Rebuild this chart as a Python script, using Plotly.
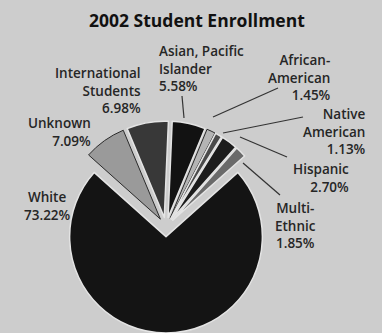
import plotly.graph_objects as go

W, H = 382, 333

# ---- data ----
categories = ["Unknown", "International Students", "Asian, Pacific Islander",
              "African-American", "Native American", "Hispanic", "Multi-Ethnic", "White"]
percent = [7.09, 6.98, 5.58, 1.45, 1.13, 2.70, 1.85, 73.22]
label_lines = [["Unknown", "7.09%"], ["International", "Students", "6.98%"],
               ["Asian, Pacific", "Islander", "5.58%"], ["African-", "American", "1.45%"],
               ["Native", "American", "1.13%"], ["Hispanic", "2.70%"],
               ["Multi-", "Ethnic", "1.85%"], ["White", "73.22%"]]
title_text = "2002 Student Enrollment"

# ---- styles ----
colors = ["#9a9a9a", "#383838", "#121212", "#b4b4b4", "#4a4a4a", "#1c1c1c", "#6a6a6a", "#141414"]
line_colors = ["#2a2a2a", "#e4e4e4", "#e4e4e4", "#2a2a2a", "#e4e4e4", "#e4e4e4", "#e4e4e4", "#e4e4e4"]
line_widths = [1, 1.5, 1.5, 1, 1.5, 1.5, 1.5, 1.5]
pulls = [0.1, 0.1, 0.1, 0.1, 0.1, 0.1, 0.1, 0.1]
BG = "#cdcdcd"
FONT = "Open Sans"

def px(x, y):
    return x / W, 1 - y / H

# pie center / size in px
cx, cy, half = 166, 227, 106
small_total = sum(percent[:-1])
rot = -small_total / 100 * 360 / 2

fig = go.Figure(go.Pie(
    labels=categories, values=percent, sort=False, direction="clockwise",
    rotation=rot, pull=pulls, textinfo="none", hoverinfo="skip",
    marker=dict(colors=colors, line=dict(color=line_colors, width=line_widths)),
    domain=dict(x=[(cx - half - 5) / W, (cx + half + 5) / W],
                y=[max(0, (H - cy - half) / H), (H - cy + half) / H]),
    showlegend=False,
))

# label placements: (anchor x, block center y, xanchor)
label_pos = [(93, 131.5, "right"), (143, 90, "right"),
             (157, 68, "left"), (333, 77, "right"),
             (368, 132, "right"), (351, 178, "right"),
             (295, 225, "center"), (47, 206, "center")]

annotations = []
for lines, (x, y, xa) in zip(label_lines, label_pos):
    ax_, ay_ = px(x, y)
    annotations.append(dict(text="<br>".join(lines), x=ax_, y=ay_, xref="paper", yref="paper",
                            xanchor=xa, yanchor="middle", align=xa if xa != "center" else "center",
                            showarrow=False,
                            font=dict(family=FONT, size=13.5, color="#262626", weight=600)))

tx, ty = px(197, 20)
annotations.append(dict(text=title_text, x=tx, y=ty, xref="paper",
                        yref="paper", xanchor="center", yanchor="middle", showarrow=False,
                        font=dict(family=FONT, size=17.5, color="#111", weight=700)))

leaders = [((182, 96), (184, 118)), ((278, 88), (213, 117)), ((303, 117), (223, 133)),
           ((240, 137), (287, 157)), ((243, 163), (280, 195))]
shapes = []
for (x0, y0), (x1, y1) in leaders:
    a0, b0 = px(x0, y0)
    a1, b1 = px(x1, y1)
    shapes.append(dict(type="line", xref="paper", yref="paper", x0=a0, y0=b0, x1=a1, y1=b1,
                       line=dict(color="#333", width=1.2)))

fig.update_layout(width=W, height=H, margin=dict(l=0, r=0, t=0, b=0),
                  paper_bgcolor=BG, plot_bgcolor=BG,
                  annotations=annotations, shapes=shapes)

fig.write_html("out.html")
